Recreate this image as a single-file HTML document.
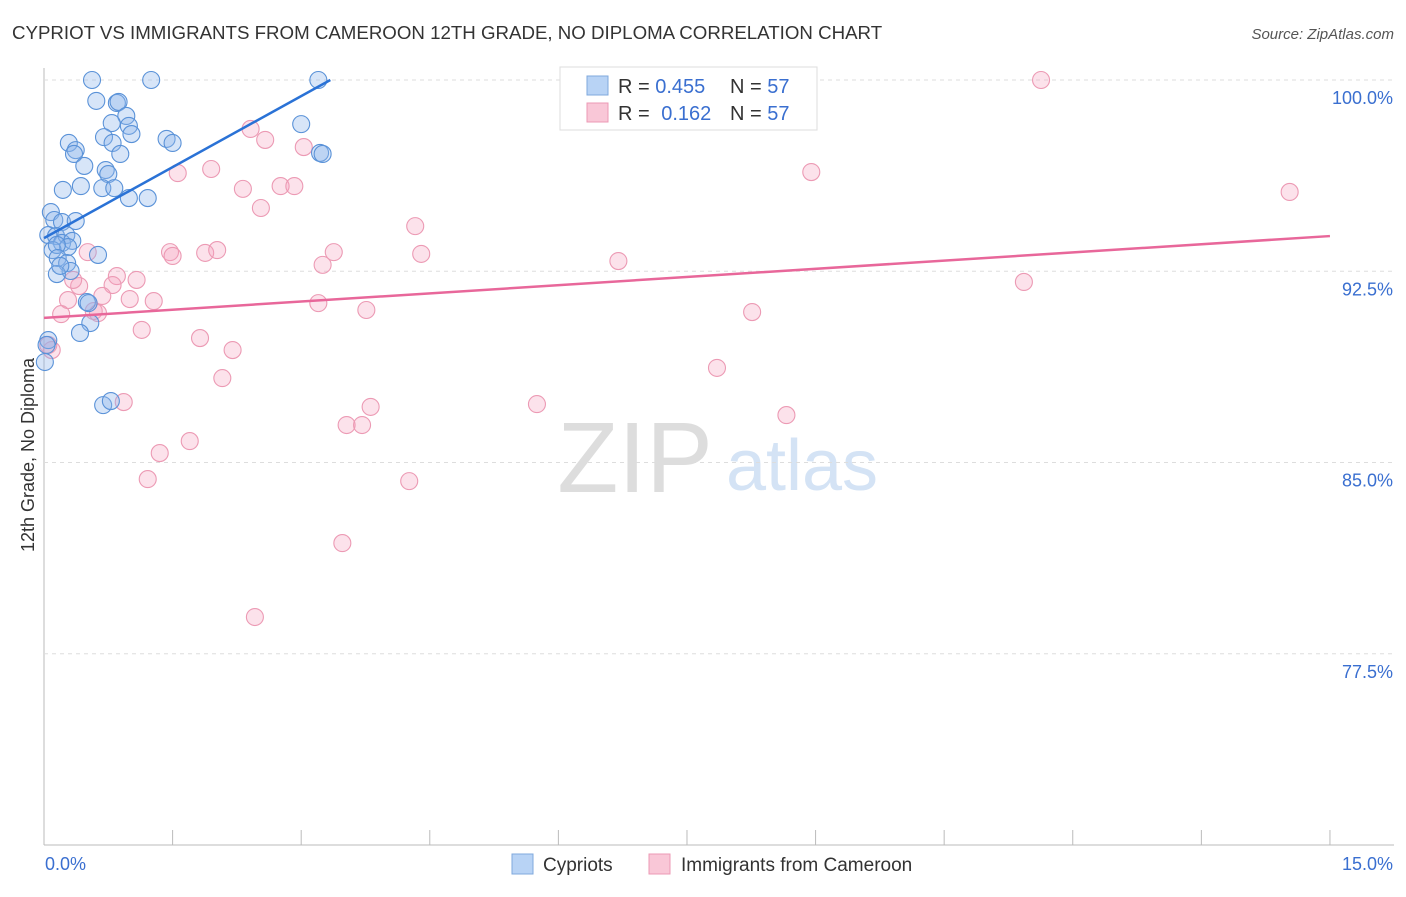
<!DOCTYPE html>
<html><head><meta charset="utf-8">
<style>
body{margin:0;background:#fff;font-family:"Liberation Sans",sans-serif;}
svg text{font-family:"Liberation Sans",sans-serif;}
</style></head>
<body>
<svg id="chart" width="1406" height="892" xmlns="http://www.w3.org/2000/svg">
<text x="12" y="39" font-size="18.7" fill="#333">CYPRIOT VS IMMIGRANTS FROM CAMEROON 12TH GRADE, NO DIPLOMA CORRELATION CHART</text>
<text x="1394" y="39" font-size="15" fill="#555" font-style="italic" text-anchor="end">Source: ZipAtlas.com</text>
<text x="635" y="492" font-size="100" fill="#ddd" font-family="Liberation Serif" text-anchor="middle">ZIP</text>
<text x="802" y="490" font-size="72" fill="#d4e3f5" text-anchor="middle">atlas</text>
<text transform="translate(34,455) rotate(-90)" font-size="18" fill="#333" text-anchor="middle">12th Grade, No Diploma</text>
<g id="grid"></g><g id="pts"></g><g id="lines"></g>
<g>
<rect x="560" y="67" width="257" height="63" fill="#fff" stroke="#ddd"/>
<rect x="587" y="76" width="21" height="19" fill="#b8d3f5" stroke="#7fa8dd"/>
<rect x="587" y="103" width="21" height="19" fill="#f9c7d7" stroke="#ec9ab4"/>
<text x="618" y="93" font-size="20" fill="#333">R = <tspan fill="#3a6fd0">0.455</tspan></text>
<text x="730" y="93" font-size="20" fill="#333">N = <tspan fill="#3a6fd0">57</tspan></text>
<text x="618" y="120" font-size="20" fill="#333">R = <tspan fill="#3a6fd0" dx="6">0.162</tspan></text>
<text x="730" y="120" font-size="20" fill="#333">N = <tspan fill="#3a6fd0">57</tspan></text>
</g>
<g>
<rect x="512" y="854" width="21" height="20" fill="#b8d3f5" stroke="#7fa8dd"/>
<text x="543" y="871" font-size="19" fill="#333">Cypriots</text>
<rect x="649" y="854" width="21" height="20" fill="#f9c7d7" stroke="#ec9ab4"/>
<text x="681" y="871" font-size="19" fill="#333">Immigrants from Cameroon</text>
</g>
</svg>
<script>
const yTicks=[100,92.5,85,77.5];
const yTickLabels=["100.0%","92.5%","85.0%","77.5%"];
const xLabels=["0.0%","15.0%"];
const blueX=[0.56,1.25,3.20,0.61,0.85,0.87,0.96,0.79,0.99,1.02,0.70,0.80,1.43,1.50,0.29,0.37,0.35,0.89,3.00,3.22,3.25,0.47,0.72,0.75,0.43,0.68,0.82,0.99,1.21,0.22,0.08,0.12,0.21,0.37,0.05,0.14,0.26,0.21,0.33,0.28,0.10,0.15,0.16,0.27,0.31,0.63,0.15,0.19,0.50,0.52,0.54,0.42,0.05,0.01,0.69,0.78,0.03];
const blueY=[100,100,100,99.18,99.10,99.14,98.59,98.31,98.20,97.88,97.76,97.53,97.69,97.53,97.53,97.25,97.10,97.10,98.27,97.14,97.10,96.63,96.47,96.31,95.84,95.76,95.76,95.37,95.37,95.69,94.82,94.51,94.43,94.47,93.92,93.88,93.92,93.61,93.69,93.45,93.33,93.53,93.02,92.82,92.51,93.14,92.39,92.71,91.29,91.25,90.47,90.08,89.80,88.94,87.25,87.41,89.61];
const pinkX=[2.41,2.58,3.03,2.32,2.53,2.76,2.92,1.95,1.56,1.47,1.50,1.88,2.02,3.38,3.25,4.33,4.40,6.70,8.95,11.63,14.53,11.43,8.26,3.76,3.20,0.51,0.85,1.08,0.80,0.41,0.34,0.68,1.00,1.28,0.28,0.20,0.58,0.63,1.14,1.82,2.20,2.08,0.93,1.70,1.35,1.21,3.53,3.71,3.81,4.26,3.48,2.46,5.75,8.66,7.85,0.09,0.05];
const pinkY=[98.08,97.65,97.37,95.73,94.98,95.84,95.84,96.51,96.35,93.25,93.10,93.22,93.33,93.25,92.75,94.27,93.18,92.90,96.39,100,95.61,92.08,90.90,90.98,91.25,93.25,92.31,92.16,91.96,91.92,92.16,91.53,91.41,91.33,91.37,90.82,90.94,90.86,90.20,89.88,89.41,88.31,87.37,85.84,85.37,84.35,86.47,86.47,87.18,84.27,81.84,78.94,87.29,86.86,88.71,89.41,89.61];
const blueTrend=[[0,93.8],[3.34,100]];
const pinkTrend=[[0,90.67],[15,93.88]];
const NS="http://www.w3.org/2000/svg";
const X=v=>44+v*85.73, Y=v=>80+(100-v)*25.5;
function mk(t,a,p){const e=document.createElementNS(NS,t);for(const k in a)e.setAttribute(k,a[k]);p.appendChild(e);return e;}
const g=document.getElementById('grid');
const ax=mk('line',{x1:44,y1:68,x2:44,y2:845,stroke:'#bbb'},g);


const bx=mk('line',{x1:44,y1:845,x2:1394,y2:845,stroke:'#bbb'},g);


yTicks.forEach((t,i)=>{
 const l=mk('line',{x1:44,y1:Y(t),x2:1394,y2:Y(t),stroke:'#ddd','stroke-dasharray':'4,4'},g);
 
 
 const tx=mk('text',{x:1393,y:Y(t)+24,'font-size':18,fill:'#3a6fd0','text-anchor':'end'},g);
 tx.textContent=yTickLabels[i];
 
 
});
for(let i=0;i<=10;i++){
 const l=mk('line',{x1:X(i*1.5),y1:830,x2:X(i*1.5),y2:845,stroke:'#bbb'},g);
 
 
}
const xl0=mk('text',{x:45,y:870,'font-size':18,fill:'#3a6fd0'},g);xl0.textContent=xLabels[0];


const xl1=mk('text',{x:1393,y:870,'font-size':18,fill:'#3a6fd0','text-anchor':'end'},g);xl1.textContent=xLabels[1];


const p=document.getElementById('pts');
pinkX.forEach((x,i)=>{const c=mk('circle',{cx:X(x),cy:Y(pinkY[i]),r:8.5,fill:'rgba(244,160,188,0.3)',stroke:'#ec9ab4','stroke-width':1.1},p);
 
 });
blueX.forEach((x,i)=>{const c=mk('circle',{cx:X(x),cy:Y(blueY[i]),r:8.5,fill:'rgba(140,180,235,0.35)',stroke:'#5a92d8','stroke-width':1.1},p);
 
 });
const L=document.getElementById('lines');
const bl=mk('line',{x1:X(blueTrend[0][0]),y1:Y(blueTrend[0][1]),x2:X(blueTrend[1][0]),y2:Y(blueTrend[1][1]),stroke:'#2a72d6','stroke-width':2.5},L);


const pl=mk('line',{x1:X(pinkTrend[0][0]),y1:Y(pinkTrend[0][1]),x2:X(pinkTrend[1][0]),y2:Y(pinkTrend[1][1]),stroke:'#e8679a','stroke-width':2.5},L);


</script>
</body></html>
